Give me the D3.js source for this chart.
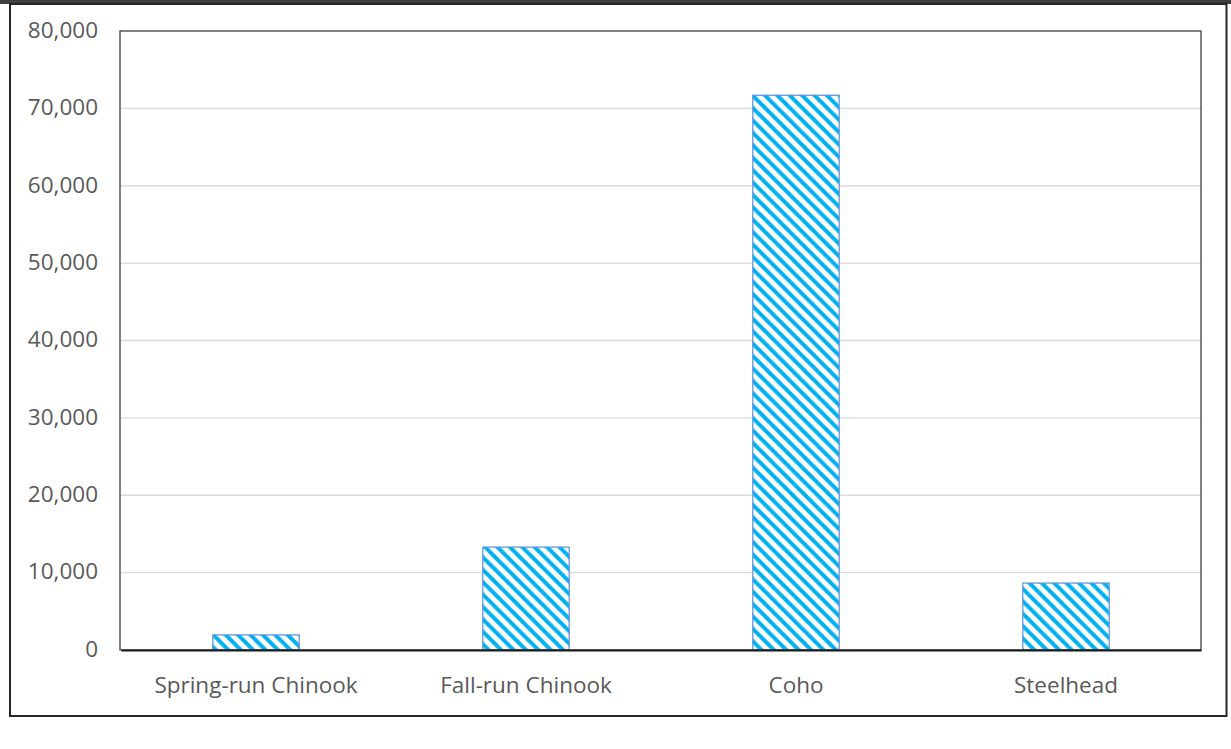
<!DOCTYPE html>
<html>
<head>
<meta charset="utf-8">
<script src="https://cdn.jsdelivr.net/npm/d3@7"></script>
<style>
  html, body { margin: 0; padding: 0; background: #fff; }
  svg { display: block; }
</style>
</head>
<body>
<svg id="chart" width="1231" height="749"></svg>
<script>
const categories = ["Spring-run Chinook", "Fall-run Chinook", "Coho", "Steelhead"];
const values = [1950, 13300, 71700, 8650];
const yTicks = [0, 10000, 20000, 30000, 40000, 50000, 60000, 70000, 80000];

const svg = d3.select("#chart");
const W = 1231, H = 749;
const plot = { left: 120, right: 1201, top: 31, bottom: 650 };
const font = "'Open Sans', 'Noto Sans', sans-serif";
const textColor = "#595959";

// top dark band and outer frame
svg.append("rect").attr("x", 0).attr("y", 0).attr("width", W).attr("height", 4).attr("fill", "#3f3f3f");
svg.append("rect").attr("x", 10).attr("y", 4).attr("width", 1216.5).attr("height", 712)
  .attr("fill", "none").attr("stroke", "#262626").attr("stroke-width", 2);

// hatch pattern
const P = 12.4;
const defs = svg.append("defs");
const pat = defs.append("pattern").attr("id", "hatch").attr("patternUnits", "userSpaceOnUse")
  .attr("width", P).attr("height", P);
pat.append("rect").attr("width", P).attr("height", P).attr("fill", "#fff");
pat.append("path").attr("d", `M-2,-2 L${P+2},${P+2} M-2,${P-2} L2,${P+2} M${P-2},-2 L${P+2},2`)
  .attr("stroke", "#00b0f0").attr("stroke-width", 4);

const x = d3.scaleBand().domain(categories).range([plot.left + 1, plot.right])
  .paddingInner(0.68).paddingOuter(0.34);
const y = d3.scaleLinear().domain([0, 80000]).range([plot.bottom, plot.top]);

// gridlines
svg.append("g").selectAll("line").data(yTicks.filter(d => d > 0 && d < 80000)).join("line")
  .attr("x1", plot.left).attr("x2", plot.right)
  .attr("y1", d => y(d)).attr("y2", d => y(d))
  .attr("stroke", "#d9d9d9").attr("stroke-width", 1.3);

// y axis labels
const yAxis = d3.axisLeft(y).tickValues(yTicks).tickSize(0).tickPadding(22)
  .tickFormat(d3.format(","));
const gy = svg.append("g").attr("transform", `translate(${plot.left},0)`).call(yAxis);
gy.select(".domain").remove();
gy.selectAll("text").attr("font-family", font).attr("font-size", 22.5).attr("fill", textColor)
  .attr("dy", "0.28em");

// bars
svg.append("g").selectAll("rect").data(categories).join("rect")
  .attr("x", d => x(d))
  .attr("y", (d, i) => y(values[i]))
  .attr("width", x.bandwidth())
  .attr("height", (d, i) => y(0) - y(values[i]))
  .attr("fill", "url(#hatch)")
  .attr("stroke", "#5b8fd6").attr("stroke-width", 1.2);

// plot box
svg.append("rect").attr("x", plot.left).attr("y", plot.top)
  .attr("width", plot.right - plot.left).attr("height", plot.bottom - plot.top)
  .attr("fill", "none").attr("stroke", "#404040").attr("stroke-width", 1.3);

// x axis
const xAxis = d3.axisBottom(x).tickSize(0).tickPadding(27);
const gx = svg.append("g").attr("transform", `translate(0,${plot.bottom})`).call(xAxis);
gx.select(".domain").attr("stroke", "#1a1a1a").attr("stroke-width", 2);
gx.selectAll("text").attr("font-family", font).attr("font-size", 22.5).attr("fill", textColor);
</script>
</body>
</html>
